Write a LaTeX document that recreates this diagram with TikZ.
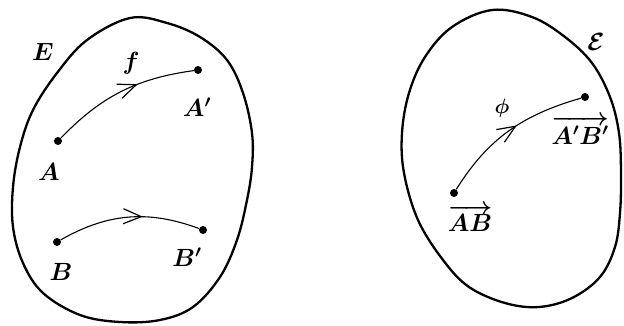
\documentclass[tikz,border=0pt]{standalone}
\usepackage{amsmath}
\usetikzlibrary{arrows.meta,decorations.markings}
\begin{document}
\begin{tikzpicture}[x=1pt,y=1pt,
  blob/.style={line width=2.3pt},
  dot/.style={circle,fill=black,inner sep=0pt,minimum size=8pt},
  lbl/.style={font=\fontsize{25}{30}\selectfont\boldmath,inner sep=0pt},
  map/.style={line width=1.1pt,postaction={decorate},
    decoration={markings,mark=at position #1 with {\arrow{Straight Barb[length=18pt,width=15pt,line width=1.2pt]}}}}
]
\useasboundingbox (0,0) rectangle (624,325);
% left set E
\draw[blob] plot[smooth cycle,tension=0.6] coordinates {
 (130,307) (167,302) (200,288) (227,265) (243,232) (252,192) (252,158)
 (247,125) (237,85) (220,48) (193,18) (160,5) (120,3) (80,10) (43,32)
 (23,62) (13,98) (13,138) (20,178) (33,215) (57,252) (87,285)};
% right set
\draw[blob] plot[smooth cycle,tension=0.6] coordinates {
 (492,315) (532,308) (565,288) (592,262) (610,228) (619,192) (621,152)
 (620,112) (615,78) (600,48) (572,27) (539,18) (505,22) (469,38) (443,65)
 (418,105) (404,152) (402,192) (409,232) (425,268) (452,298)};
% points left
\node[dot] (A) at (58,184) {};
\node[dot] (A2) at (198,255) {};
\node[dot] (B) at (57,83) {};
\node[dot] (B2) at (203,95) {};
\draw[map=0.62] (A) to[bend left=19] (A2);
\draw[map=0.6] (B) to[bend left=25] (B2);
% labels left
\node[lbl] (E) at (43,273) {$E$};
\node[lbl] (f) at (131,262) {$f$};
\node[lbl] (lA2) at (197,218) {$A'$};
\node[lbl] (lA) at (49,153) {$A$};
\node[lbl] (lB) at (61,53) {$B$};
\node[lbl] (lB2) at (187,68) {$B'$};
% right
\node[dot] (P) at (454,132) {};
\node[dot] (Q) at (585,228) {};
\draw[map=0.56] (P) to[out=58,in=196] (Q);
\node[lbl,font=\fontsize{24}{28}\selectfont\boldmath] (sE) at (596,283) {$\mathcal{E}$};
\node[lbl,font=\fontsize{22}{26}\selectfont\boldmath] (phi) at (502,217) {$\phi$};
\node[lbl] (lAB) at (470,107) {$\overrightarrow{AB}$};
\node[lbl] (lA2B2) at (580,195) {$\overrightarrow{A'B'}$};
\end{tikzpicture}
\end{document}
